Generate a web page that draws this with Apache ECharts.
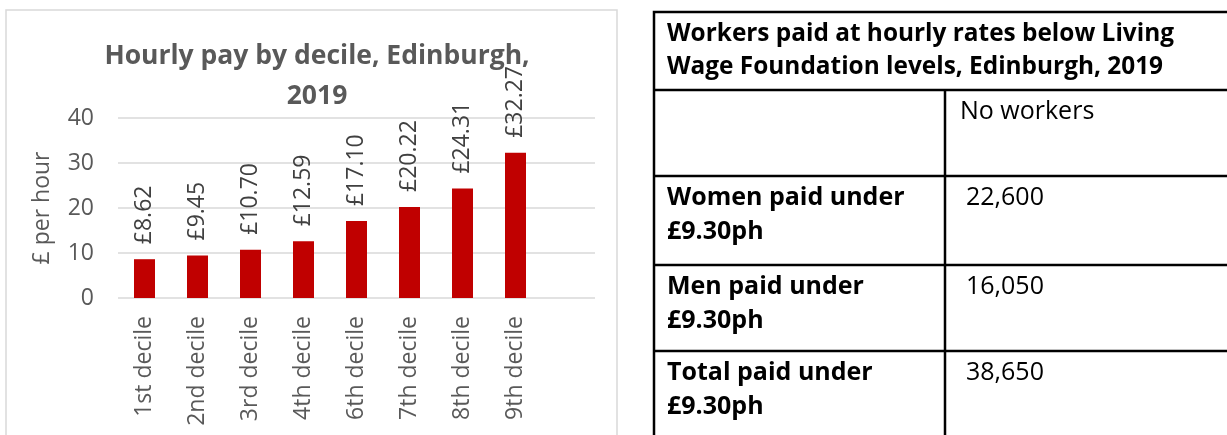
<!DOCTYPE html>
<html>
<head>
<meta charset="utf-8">
<script src="https://cdn.jsdelivr.net/npm/echarts@6/dist/echarts.min.js"></script>
<style>
  html, body { margin: 0; padding: 0; background: #fff; }
  #main { width: 1227px; height: 435px; }
</style>
</head>
<body>
<div id="main"></div>
<script>
// chart data (last slot is an empty category, as in the source sheet)
var deciles = ['1st decile', '2nd decile', '3rd decile', '4th decile', '6th decile', '7th decile', '8th decile', '9th decile', ''];
var hourlyPay = [8.62, 9.45, 10.70, 12.59, 17.10, 20.22, 24.31, 32.27, null];

// table data
var tableTitle = ['Workers paid at hourly rates below Living', 'Wage Foundation levels, Edinburgh, 2019'];
var tableColHead = 'No workers';
var rowLabels = [['Women paid under', '£9.30ph'], ['Men paid under', '£9.30ph'], ['Total paid under', '£9.30ph']];
var rowValues = ['22,600', '16,050', '38,650'];

var grey = '#595959';
var font = '"Open Sans"';

// table geometry
var tx0 = 654, tx1 = 1240, tcol = 945;
var rowTops = [12, 90, 176, 265, 351, 460];

var graphics = [
    // chart frame
    { type: 'rect', shape: { x: 6, y: 10, width: 611, height: 440 }, style: { fill: 'none', stroke: '#D9D9D9', lineWidth: 1.5 } },
    // table outer + column divider
    { type: 'rect', shape: { x: tx0, y: rowTops[0], width: tx1 - tx0, height: rowTops[5] - rowTops[0] }, style: { fill: 'none', stroke: '#000', lineWidth: 2.5 } },
    { type: 'line', shape: { x1: tcol, y1: rowTops[1], x2: tcol, y2: rowTops[5] }, style: { stroke: '#000', lineWidth: 2.5 } }
];
for (var i = 1; i < 5; i++) {
    graphics.push({ type: 'line', shape: { x1: tx0, y1: rowTops[i], x2: tx1, y2: rowTops[i] }, style: { stroke: '#000', lineWidth: 2.5 } });
}

function cellText(str, x, y, bold, size) {
    return {
        type: 'text', x: x, y: y,
        style: { text: str, font: (bold ? 'bold ' : '') + (size || 25) + 'px ' + font, fill: '#000', verticalAlign: 'middle', align: 'left' }
    };
}

graphics.push(cellText(tableTitle[0], 667, 34, true, 24.4));
graphics.push(cellText(tableTitle[1], 667, 67, true, 24.4));
graphics.push(cellText(tableColHead, 960, 112, false));
rowLabels.forEach(function (lab, k) {
    var cy = rowTops[k + 2] + 22;
    graphics.push(cellText(lab[0], 667, cy, true));
    graphics.push(cellText(lab[1], 667, cy + 34, true));
    graphics.push(cellText(rowValues[k], 966, cy, false));
});

var chart = echarts.init(document.getElementById('main'));
chart.setOption({
    animation: false,
    title: {
        text: 'Hourly pay by decile, Edinburgh,\n2019',
        left: 312,
        top: 31,
        textAlign: 'center',
        textStyle: { fontFamily: font, fontWeight: 'bold', fontSize: 26.5, color: grey, lineHeight: 40 }
    },
    grid: { left: 118, top: 118, width: 477, height: 180 },
    xAxis: {
        type: 'category',
        data: deciles,
        axisLine: { show: false },
        axisTick: { show: false },
        axisLabel: { rotate: 90, interval: 0, margin: 18, fontFamily: font, fontSize: 23, color: grey }
    },
    yAxis: {
        type: 'value',
        min: 0, max: 40, interval: 10,
        name: '£ per hour',
        nameLocation: 'middle',
        nameRotate: 90,
        nameGap: 64,
        nameTextStyle: { fontFamily: font, fontSize: 23, color: grey },
        axisLabel: { margin: 24, fontFamily: font, fontSize: 23, color: grey },
        splitLine: { lineStyle: { color: '#D9D9D9', width: 1.5 } }
    },
    series: [{
        type: 'bar',
        data: hourlyPay,
        barWidth: 21,
        itemStyle: { color: '#C00000' },
        label: {
            show: true,
            position: 'top',
            rotate: 90,
            align: 'left',
            verticalAlign: 'middle',
            distance: 15,
            fontFamily: font,
            fontSize: 23,
            color: '#404040',
            formatter: function (p) { return '£' + p.value.toFixed(2); }
        }
    }],
    graphic: graphics
});
</script>
</body>
</html>
